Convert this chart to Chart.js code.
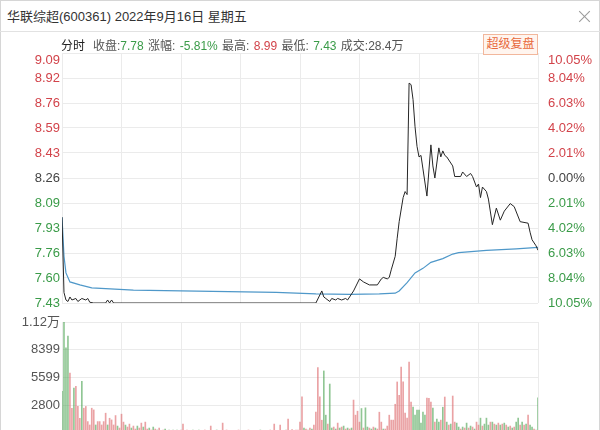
<!DOCTYPE html>
<html>
<head>
<meta charset="utf-8">
<script src="https://cdn.jsdelivr.net/npm/chart.js@4.4.1/dist/chart.umd.min.js"></script>
<style>
    body { margin: 0; width: 600px; height: 430px; overflow: hidden; background: #fff; position: relative;
           font-family: "Liberation Sans", "Noto Sans CJK SC", sans-serif; }
    .frame { position: absolute; left: 0; top: 0; width: 598px; height: 440px; border: 1px solid #d6d6d6; }
    .title { position: absolute; left: 7px; top: 6px; font-size: 13px; color: #333; }
    .close { position: absolute; left: 579px; top: 10px; width: 12px; height: 12px; }
    .close:before, .close:after { content: ''; position: absolute; left: 5px; top: -1px; width: 1px; height: 15px; background: #999; }
    .close:before { transform: rotate(45deg); }
    .close:after { transform: rotate(-45deg); }
    .sep { position: absolute; left: 0; top: 31px; width: 600px; height: 1px; background: #e2e2e2; }
    .info { position: absolute; left: 61px; top: 36px; font-size: 12px; color: #555; white-space: nowrap; word-spacing: 1px; }
    .info b { font-weight: normal; color: #222; margin-right: 8px; }
    .up { color: #d2434a; }
    .down { color: #3a9b48; }
    .btn { position: absolute; left: 483px; top: 34px; width: 53px; height: 19px; border: 1px solid #f2b79c;
           background: #fff5ef; color: #e8693c; font-size: 12px; line-height: 19px; text-align: center; }
    canvas { position: absolute; left: 0; }
    #priceChart { top: 33px; }
    #volChart { top: 300px; }
</style>
</head>
<body>
<div class="frame"></div>
<div class="title">华联综超(600361) 2022年9月16日 星期五</div>
<div class="close"></div>
<div class="sep"></div>
<canvas id="priceChart" width="600" height="285"></canvas>
<canvas id="volChart" width="600" height="150"></canvas>
<div class="info"><b>分时</b>收盘:<span class="down">7.78</span> 涨幅: <span class="down">-5.81%</span> 最高: <span class="up">8.99</span> 最低: <span class="down">7.43</span> 成交:28.4万</div>
<div class="btn">超级复盘</div>
<script>
const prevClose = 8.26;
const priceMin = 7.43;
const priceMax = 9.09;
const priceTickLabels = ['7.43', '7.60', '7.76', '7.93', '8.09', '8.26', '8.43', '8.59', '8.76', '8.92', '9.09'];
const pctTickLabels = ['10.05%', '8.04%', '6.03%', '4.02%', '2.01%', '0.00%', '2.01%', '4.02%', '6.03%', '8.04%', '10.05%'];
const volTickValues = [0, 2800, 5599, 8399, 11198];
const volTickLabels = ['', '2800', '5599', '8399', '1.12万'];

// minute (0-240) and price pairs
const priceMinutes = [0, 1, 2, 3, 4, 5, 7, 8, 10, 12, 13, 14, 16, 22, 23, 24, 25, 26, 128, 131, 132, 133, 135, 136,
    138, 139, 141, 143, 144, 145, 147, 150, 152, 155, 159, 161, 162, 164, 165, 166, 168, 169, 170, 172, 173, 174,
    175, 176, 177, 178, 179, 180, 181, 182, 184, 186, 187, 188, 190, 191, 192, 193, 194, 197, 198, 201, 202, 204,
    206, 207, 209, 210, 211, 212, 214, 215, 217, 219, 221, 223, 226, 228, 231, 235, 236, 237, 239, 240];
const priceValues = [8.00, 7.50, 7.45, 7.44, 7.47, 7.45, 7.46, 7.44, 7.46, 7.45, 7.46, 7.435, 7.43, 7.43, 7.45, 7.43,
    7.45, 7.43, 7.43, 7.51, 7.47, 7.46, 7.44, 7.46, 7.45, 7.46, 7.45, 7.46, 7.45, 7.47, 7.51, 7.59, 7.57, 7.55, 7.55,
    7.59, 7.60, 7.59, 7.60, 7.65, 7.74, 7.86, 7.97, 8.13, 8.17, 8.15, 8.89, 8.88, 8.78, 8.60, 8.47, 8.40, 8.41, 8.32,
    8.14, 8.48, 8.34, 8.26, 8.46, 8.40, 8.44, 8.41, 8.40, 8.34, 8.27, 8.27, 8.30, 8.27, 8.29, 8.27, 8.20, 8.22, 8.13,
    8.20, 8.17, 8.12, 7.95, 8.06, 7.98, 8.04, 8.09, 8.07, 7.97, 7.96, 7.90, 7.85, 7.81, 7.78];

const avgMinutes = [0, 1, 2, 4, 9, 15, 36, 60, 108, 128, 145, 160, 168, 170, 174, 178, 182, 186, 192, 197, 200, 214, 229, 240];
const avgValues = [8.00, 7.74, 7.63, 7.57, 7.55, 7.53, 7.515, 7.51, 7.50, 7.49, 7.487, 7.49, 7.495, 7.51, 7.565, 7.63,
    7.66, 7.70, 7.725, 7.755, 7.765, 7.78, 7.79, 7.80];

// one bar per minute
const volumes = [
    4200, 11198, 8590, 9770, 6050, 2500, 4530, 4700, 2680, 1490,
    5210, 2500, 2680, 1150, 810, 2500, 2330, 810, 1150, 1150,
    810, 1150, 2000, 810, 1490, 1320, 810, 1760, 700, 500,
    1900, 1100, 800, 600, 900, 500, 700, 400, 700, 500,
    1000, 600, 1100, 400, 500, 300, 600, 400, 300, 500,
    200, 300, 400, 200, 300, 200, 300, 150, 300, 200,
    300, 900, 200, 300, 150, 200, 300, 200, 150, 300,
    200, 150, 300, 200, 250, 700, 200, 150, 300, 200,
    250, 1000, 200, 300, 150, 200, 250, 150, 200, 300,
    150, 200, 250, 150, 300, 200, 150, 250, 200, 150,
    300, 200, 250, 150, 200, 300, 200, 900, 250, 200,
    800, 200, 250, 300, 1400, 200, 350, 250, 300, 300,
    1100, 3650, 500, 400, 300, 500, 400, 800, 2100, 6590,
    3650, 1290, 6260, 1800, 900, 4940, 500, 600, 400, 1000,
    500, 600, 700, 400, 500, 400, 500, 3320, 1800, 2200,
    1100, 2470, 500, 2540, 600, 500, 400, 600, 500, 400,
    2100, 1100, 400, 400, 700, 1800, 1300, 1300, 2900, 5150,
    3800, 6650, 5150, 2000, 1500, 7160, 3130, 2620, 1800, 2300,
    2300, 1000, 2100, 1800, 3530, 3500, 3130, 2520, 1100, 1400,
    1100, 1300, 2600, 3630, 1100, 800, 900, 3730, 1100, 1000,
    600, 400, 600, 500, 1000, 500, 700, 600, 400, 1100,
    800, 1500, 700, 900, 1500, 800, 1100, 1100, 900, 800,
    1000, 800, 900, 1000, 800, 600, 700, 500, 600, 1100,
    1500, 800, 1100, 800, 900, 1800, 800, 600, 400, 300,
    3550
];
// r = up minute, g = down minute
const volSides = ('ggggrrgrrr grrrrrrgrr rrrgrrrrgr rrgrrgrrgr rgrrgrgrgr grgrgrgrgr rrgrgrgrgg rgrgrrgrgr ' +
    'grgrgrgrgr rgrgrgrgrg grgrgrgrgr rgrgrgrgrr rrgrgrgrrr rrggrggrgr grgrgrgrrr rgrggrgrgr rrgrrrrrrr ' +
    'rrrrrrrggg ggggrrrgrg grgrgrgrrg grgrgrgrgr rgrgggrgrg rgrgrgrgrg grgrgrggrg g').replace(/ /g, '');

const RED = '#d2434a';
const GREEN = '#3a9b48';
const NEUTRAL = '#444';
const GRID = '#ebebeb';

Chart.defaults.font.family = '"Liberation Sans", "Noto Sans CJK SC", sans-serif';
Chart.defaults.font.size = 13;
Chart.defaults.animation = false;

function sideColor(index) {
    if (index > 5) return RED;
    if (index < 5) return GREEN;
    return NEUTRAL;
}

function timeAxis() {
    return {
        type: 'linear',
        min: 0,
        max: 240,
        offset: false,
        ticks: { stepSize: 30, display: false },
        grid: { color: GRID, drawTicks: false, offset: false },
        border: { display: false },
        afterFit: s => { s.height = 0; }
    };
}

function drawPriceChart() {
    const ctx = document.getElementById('priceChart').getContext('2d');
    new Chart(ctx, {
        type: 'line',
        data: {
            datasets: [{
                data: priceMinutes.map((t, i) => ({ x: t, y: priceValues[i] })),
                borderColor: '#262626',
                borderWidth: 1,
                pointRadius: 0,
                tension: 0
            }, {
                data: avgMinutes.map((t, i) => ({ x: t, y: avgValues[i] })),
                borderColor: '#4f98c9',
                borderWidth: 1.2,
                pointRadius: 0,
                tension: 0
            }]
        },
        options: {
            responsive: false,
            layout: { padding: { top: 20, bottom: 15 } },
            plugins: { legend: { display: false }, tooltip: { enabled: false } },
            scales: {
                x: timeAxis(),
                y: {
                    position: 'left',
                    min: priceMin,
                    max: priceMax,
                    afterBuildTicks: s => {
                        s.ticks = priceTickLabels.map((l, k) => ({ value: priceMin + k * (priceMax - priceMin) / 10 }));
                    },
                    afterFit: s => { s.width = 62; },
                    ticks: {
                        autoSkip: false,
                        padding: 2,
                        // top label sits below its line, like the original
                        callback: (v, i) => i === priceTickLabels.length - 1 ? ['', priceTickLabels[i]] : priceTickLabels[i],
                        color: c => sideColor(c.index)
                    },
                    grid: { color: GRID, drawTicks: false },
                    border: { display: false }
                },
                y2: {
                    position: 'right',
                    min: -10.05,
                    max: 10.05,
                    afterBuildTicks: s => {
                        s.ticks = pctTickLabels.map((l, k) => ({ value: -10.05 + k * 2.01 }));
                    },
                    afterFit: s => { s.width = 62; },
                    ticks: {
                        autoSkip: false,
                        padding: 2,
                        callback: (v, i) => i === pctTickLabels.length - 1 ? ['', pctTickLabels[i]] : pctTickLabels[i],
                        color: c => sideColor(c.index)
                    },
                    grid: { display: false },
                    border: { display: false }
                }
            }
        }
    });
}

function drawVolChart() {
    const ctx = document.getElementById('volChart').getContext('2d');
    new Chart(ctx, {
        type: 'bar',
        data: {
            datasets: [{
                data: volumes.map((v, i) => ({ x: i, y: v })),
                backgroundColor: volumes.map((v, i) => volSides[i] === 'r' ? 'rgba(220,100,104,0.6)' : 'rgba(70,160,76,0.6)'),
                barThickness: 1
            }]
        },
        options: {
            responsive: false,
            layout: { padding: { top: 22, bottom: 17, right: 62 } },
            plugins: { legend: { display: false }, tooltip: { enabled: false } },
            scales: {
                x: timeAxis(),
                y: {
                    min: 0,
                    max: volTickValues[volTickValues.length - 1],
                    afterBuildTicks: s => { s.ticks = volTickValues.map(v => ({ value: v })); },
                    afterFit: s => { s.width = 62; },
                    ticks: {
                        autoSkip: false,
                        padding: 2,
                        color: '#555',
                        callback: (v, i) => volTickLabels[i]
                    },
                    grid: { color: GRID, drawTicks: false },
                    border: { display: false }
                }
            }
        }
    });
}

drawPriceChart();
drawVolChart();
</script>
</body>
</html>
